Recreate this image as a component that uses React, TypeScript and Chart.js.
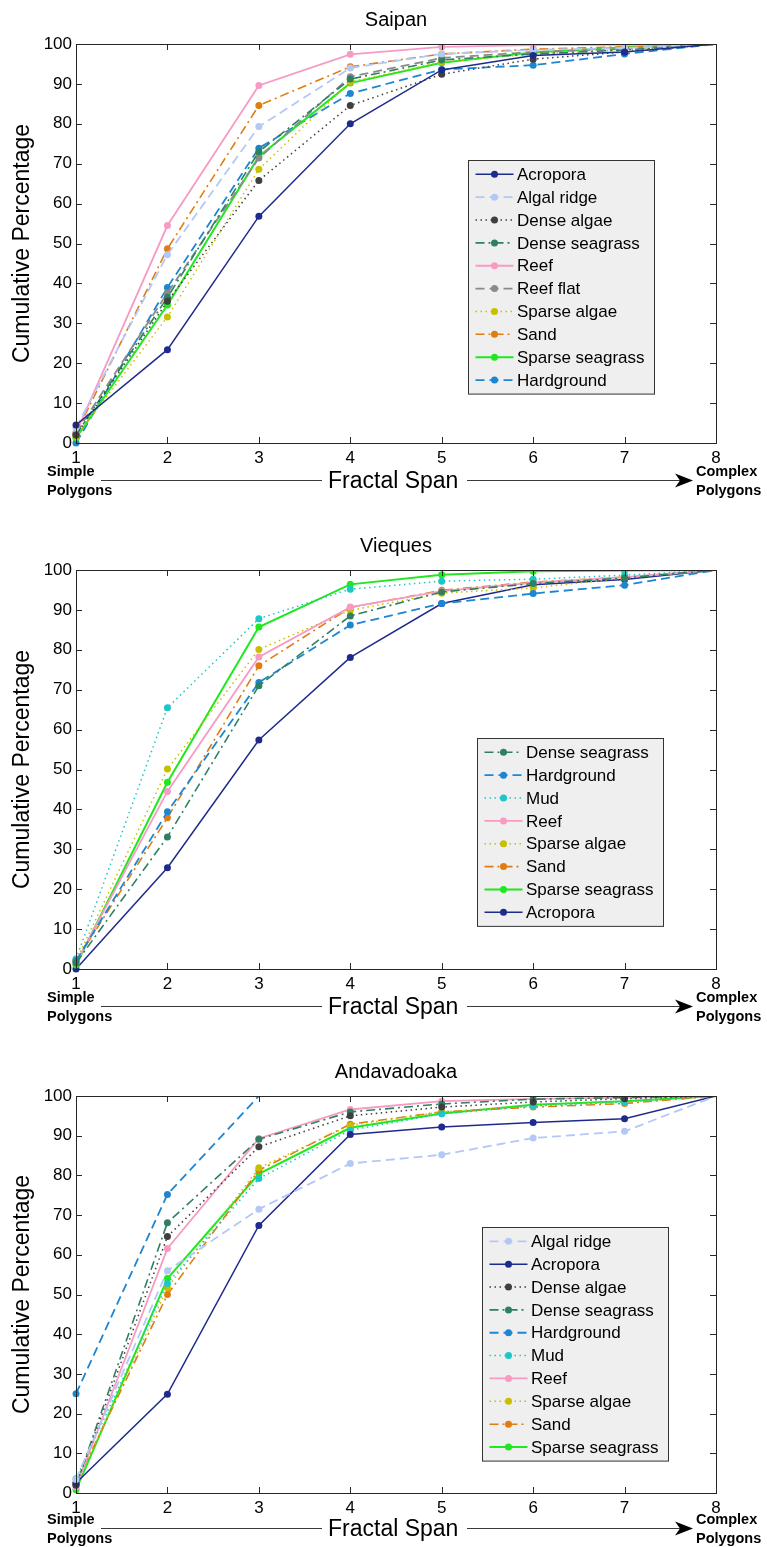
import { useEffect, useRef } from 'react';
import { Chart, registerables } from 'chart.js';

Chart.register(...registerables);

// ---------- axis categories ----------
const spans = ['1', '2', '3', '4', '5', '6', '7', '8'];
const yAxisTitle = 'Cumulative Percentage';

// ---------- Saipan ----------
const saipanAcropora = [4.5, 23.4, 56.8, 80.0, 93.5, 97.1, 98.0, 100];
const saipanAlgalRidge = [3.8, 47.2, 79.3, 94.0, 97.5, 98.5, 99.0, 100];
const saipanDenseAlgae = [2.0, 35.5, 65.8, 84.6, 92.4, 96.2, 98.0, 100];
const saipanDenseSeagrass = [2.0, 36.5, 73.0, 91.2, 96.0, 97.5, 98.5, 100];
const saipanReef = [2.5, 54.5, 89.6, 97.4, 99.3, 99.7, 99.8, 100];
const saipanReefFlat = [2.5, 37.6, 71.4, 91.8, 96.5, 98.0, 98.8, 100];
const saipanSparseAlgae = [1.5, 31.6, 68.6, 90.5, 95.5, 97.5, 98.5, 100];
const saipanSand = [2.5, 48.7, 84.6, 94.3, 97.5, 98.7, 99.3, 100];
const saipanSparseSeagrass = [1.2, 34.6, 71.8, 90.2, 95.3, 97.9, 99.2, 100];
const saipanHardground = [0.0, 39.0, 73.9, 87.6, 93.6, 94.7, 97.5, 100];

// ---------- Vieques ----------
const viequesDenseSeagrass = [1.5, 33.1, 71.0, 88.5, 94.5, 96.6, 98.0, 100];
const viequesHardground = [2.0, 39.4, 71.8, 86.2, 91.6, 94.1, 96.2, 100];
const viequesMud = [2.5, 65.5, 87.8, 95.2, 97.2, 97.7, 98.7, 100];
const viequesReef = [1.5, 44.5, 78.2, 90.7, 94.7, 96.8, 98.2, 100];
const viequesSparseAlgae = [2.0, 50.1, 80.1, 89.9, 94.2, 95.5, 98.0, 100];
const viequesSand = [2.0, 37.9, 76.0, 90.6, 94.9, 97.0, 98.2, 100];
const viequesSparseSeagrass = [1.0, 46.8, 85.7, 96.4, 98.8, 99.7, 99.9, 100];
const viequesAcropora = [0.0, 25.4, 57.4, 78.1, 91.6, 96.3, 97.6, 100];

// ---------- Andavadoaka ----------
const andaAlgalRidge = [3.4, 56.0, 71.5, 83.0, 85.2, 89.4, 91.1, 100];
const andaAcropora = [2.5, 24.9, 67.4, 90.3, 92.2, 93.3, 94.3, 100];
const andaDenseAlgae = [2.0, 64.6, 87.2, 95.0, 97.2, 98.5, 99.3, 100];
const andaDenseSeagrass = [2.0, 68.1, 89.1, 96.0, 98.0, 99.2, 99.6, 100];
const andaHardground = [25.0, 75.2, 100, 100, 100, 100, 100, 100];
const andaMud = [3.6, 52.8, 79.2, 91.4, 95.5, 97.5, 98.5, 100];
const andaReef = [1.5, 61.6, 89.3, 96.6, 98.7, 99.3, 99.6, 100];
const andaSparseAlgae = [2.0, 51.7, 81.9, 92.6, 96.0, 97.5, 98.5, 100];
const andaSand = [2.5, 50.0, 81.3, 92.9, 96.0, 97.2, 98.1, 100];
const andaSparseSeagrass = [0.8, 54.0, 80.4, 92.0, 95.6, 97.8, 98.7, 100];

// ---------- styles per class ----------
const DASHED = [9, 5];
const DOTTED = [1.5, 3.5];
const DASHDOT = [9, 4, 2, 4];
const STYLE: Record<string, { color: string; dash: number[]; width: number }> = {
  'Acropora': { color: '#1f2b8c', dash: [], width: 1.5 },
  'Algal ridge': { color: '#b4c8f6', dash: DASHED, width: 1.8 },
  'Dense algae': { color: '#3f3f3f', dash: DOTTED, width: 1.5 },
  'Dense seagrass': { color: '#2e8060', dash: DASHDOT, width: 1.6 },
  'Reef': { color: '#f79ac4', dash: [], width: 1.8 },
  'Reef flat': { color: '#8a8a8a', dash: DASHED, width: 1.8 },
  'Sparse algae': { color: '#c6c000', dash: DOTTED, width: 1.5 },
  'Sand': { color: '#e07d12', dash: DASHDOT, width: 1.6 },
  'Sparse seagrass': { color: '#1ee81e', dash: [], width: 2 },
  'Hardground': { color: '#1e86d0', dash: DASHED, width: 1.8 },
  'Mud': { color: '#1dc6c9', dash: DOTTED, width: 1.5 },
};

const FONT = 'Arial, "Liberation Sans", sans-serif';

type Series = { name: string; data: number[] };
type Panel = {
  title: string;
  series: Series[];
  legendLeft: number;
  legendTop: number;
  top: number;
  height: number;
  plotBottom: number;
  annotShift: number;
};

const panels: Panel[] = [
  {
    title: 'Saipan',
    series: [
      { name: 'Acropora', data: saipanAcropora },
      { name: 'Algal ridge', data: saipanAlgalRidge },
      { name: 'Dense algae', data: saipanDenseAlgae },
      { name: 'Dense seagrass', data: saipanDenseSeagrass },
      { name: 'Reef', data: saipanReef },
      { name: 'Reef flat', data: saipanReefFlat },
      { name: 'Sparse algae', data: saipanSparseAlgae },
      { name: 'Sand', data: saipanSand },
      { name: 'Sparse seagrass', data: saipanSparseSeagrass },
      { name: 'Hardground', data: saipanHardground },
    ],
    legendLeft: 468,
    legendTop: 160,
    top: 0,
    height: 526,
    plotBottom: 443,
    annotShift: 0,
  },
  {
    title: 'Vieques',
    series: [
      { name: 'Dense seagrass', data: viequesDenseSeagrass },
      { name: 'Hardground', data: viequesHardground },
      { name: 'Mud', data: viequesMud },
      { name: 'Reef', data: viequesReef },
      { name: 'Sparse algae', data: viequesSparseAlgae },
      { name: 'Sand', data: viequesSand },
      { name: 'Sparse seagrass', data: viequesSparseSeagrass },
      { name: 'Acropora', data: viequesAcropora },
    ],
    legendLeft: 477,
    legendTop: 212,
    top: 526,
    height: 526,
    plotBottom: 443,
    annotShift: 0,
  },
  {
    title: 'Andavadoaka',
    series: [
      { name: 'Algal ridge', data: andaAlgalRidge },
      { name: 'Acropora', data: andaAcropora },
      { name: 'Dense algae', data: andaDenseAlgae },
      { name: 'Dense seagrass', data: andaDenseSeagrass },
      { name: 'Hardground', data: andaHardground },
      { name: 'Mud', data: andaMud },
      { name: 'Reef', data: andaReef },
      { name: 'Sparse algae', data: andaSparseAlgae },
      { name: 'Sand', data: andaSand },
      { name: 'Sparse seagrass', data: andaSparseSeagrass },
    ],
    legendLeft: 482,
    legendTop: 175,
    top: 1052,
    height: 495,
    plotBottom: 441,
    annotShift: -2,
  },
];

const makeFramePlugin = (panel: Panel) => ({
  id: 'matlabFrame',
  afterDatasetsDraw(chart: any) {
    const { ctx, chartArea: a, scales } = chart;
    const xs = scales.x;
    const ys = scales.y;
    ctx.save();
    // inward ticks
    ctx.strokeStyle = '#2a2a2a';
    ctx.lineWidth = 1;
    ctx.setLineDash([]);
    ctx.beginPath();
    xs.ticks.forEach((_t: any, i: number) => {
      const px = Math.round(xs.getPixelForTick(i)) + 0.5;
      ctx.moveTo(px, a.bottom);
      ctx.lineTo(px, a.bottom - 6);
      ctx.moveTo(px, a.top);
      ctx.lineTo(px, a.top + 6);
    });
    ys.ticks.forEach((t: any) => {
      const py = Math.round(ys.getPixelForValue(t.value)) + 0.5;
      ctx.moveTo(a.left, py);
      ctx.lineTo(a.left + 6, py);
      ctx.moveTo(a.right, py);
      ctx.lineTo(a.right - 6, py);
    });
    ctx.stroke();

    // legend
    const datasets = chart.data.datasets;
    const rowH = 22.86;
    const boxW = 186;
    const boxH = datasets.length * rowH + 5;
    const L = panel.legendLeft + 0.5;
    const T = panel.legendTop + 0.5;
    ctx.fillStyle = '#efefef';
    ctx.fillRect(L, T, boxW, boxH);
    ctx.strokeStyle = '#333';
    ctx.lineWidth = 1;
    ctx.strokeRect(L, T, boxW, boxH);
    ctx.font = `17px ${FONT}`;
    ctx.textAlign = 'left';
    ctx.textBaseline = 'middle';
    datasets.forEach((ds: any, i: number) => {
      const cy = panel.legendTop + 14.3 + i * rowH;
      ctx.strokeStyle = ds.borderColor;
      ctx.lineWidth = ds.borderWidth;
      ctx.setLineDash(ds.borderDash || []);
      ctx.beginPath();
      ctx.moveTo(L + 7, cy);
      ctx.lineTo(L + 45, cy);
      ctx.stroke();
      ctx.setLineDash([]);
      ctx.fillStyle = ds.pointBackgroundColor;
      ctx.beginPath();
      ctx.arc(L + 26, cy, 3.5, 0, Math.PI * 2);
      ctx.fill();
      ctx.fillStyle = '#000';
      ctx.fillText(ds.label, L + 48.5, cy + 1);
    });

    // axes box
    ctx.strokeStyle = '#262626';
    ctx.lineWidth = 1;
    ctx.strokeRect(Math.round(a.left) + 0.5, Math.round(a.top) + 0.5, Math.round(a.right - a.left), Math.round(a.bottom - a.top));
    ctx.restore();
  },
  afterDraw(chart: any) {
    const { ctx, chartArea: a } = chart;
    const pb = a.bottom + panel.annotShift;
    ctx.save();
    ctx.fillStyle = '#000';
    ctx.textAlign = 'left';
    ctx.textBaseline = 'alphabetic';
    ctx.font = `bold 14.5px ${FONT}`;
    ctx.fillText('Simple', 47, pb + 33);
    ctx.fillText('Polygons', 47, pb + 52);
    ctx.fillText('Complex', 696, pb + 33);
    ctx.fillText('Polygons', 696, pb + 52);
    ctx.font = `23px ${FONT}`;
    ctx.fillText('Fractal Span', 328, pb + 45);
    ctx.strokeStyle = '#3a3a3a';
    ctx.lineWidth = 1;
    const ly = Math.round(pb + 37) + 0.5;
    ctx.beginPath();
    ctx.moveTo(101, ly);
    ctx.lineTo(322, ly);
    ctx.moveTo(467, ly);
    ctx.lineTo(684, ly);
    ctx.stroke();
    ctx.fillStyle = '#000';
    ctx.beginPath();
    ctx.moveTo(693, ly);
    ctx.lineTo(675, ly - 7);
    ctx.lineTo(680, ly);
    ctx.lineTo(675, ly + 7);
    ctx.closePath();
    ctx.fill();
    ctx.restore();
  },
});

function ChartPanel({ panel }: { panel: Panel }) {
  const ref = useRef<HTMLCanvasElement | null>(null);
  useEffect(() => {
    if (!ref.current) return;
    const chart = new Chart(ref.current, {
      type: 'line',
      data: {
        labels: spans,
        datasets: panel.series.map((s) => {
          const st = STYLE[s.name];
          return {
            label: s.name,
            data: s.data,
            borderColor: st.color,
            backgroundColor: st.color,
            borderWidth: st.width,
            borderDash: st.dash,
            pointRadius: (c: any) => (c.raw >= 100 ? 0 : 3.5),
            pointHoverRadius: 0,
            pointBackgroundColor: st.color,
            pointBorderColor: st.color,
            pointBorderWidth: 0,
            tension: 0,
            fill: false,
            clip: { left: 6, right: 0, top: 0, bottom: 6 },
          };
        }),
      },
      options: {
        responsive: false,
        animation: false,
        events: [],
        layout: { padding: { left: 0, right: 51, top: 0, bottom: 0 } },
        plugins: {
          legend: { display: false },
          tooltip: { enabled: false },
          title: {
            display: true,
            text: panel.title,
            fullSize: false,
            color: '#000',
            font: { family: FONT, size: 20, weight: 'normal' },
            padding: { top: 8, bottom: 12 },
          },
        },
        scales: {
          x: {
            type: 'category',
            offset: false,
            grid: { display: false, drawTicks: false },
            border: { display: true, color: '#262626' },
            ticks: { color: '#000', font: { family: FONT, size: 17 }, padding: 5, maxRotation: 0, autoSkip: false },
            afterFit: (s: any) => {
              s.height = panel.height - panel.plotBottom;
            },
          },
          y: {
            min: 0,
            max: 100,
            grid: { display: false, drawTicks: false },
            border: { display: true, color: '#262626' },
            ticks: { stepSize: 10, color: '#000', font: { family: FONT, size: 17 }, padding: 4 },
            title: {
              display: true,
              text: yAxisTitle,
              color: '#000',
              font: { family: FONT, size: 23 },
              padding: { top: 9, bottom: 0 },
            },
            afterFit: (s: any) => {
              s.width = 76;
            },
          },
        },
      } as any,
      plugins: [makeFramePlugin(panel)],
    });
    return () => chart.destroy();
  }, [panel]);
  return (
    <div style={{ position: 'absolute', left: 0, top: panel.top, width: 767, height: panel.height }}>
      <canvas ref={ref} width={767} height={panel.height} style={{ display: 'block' }} />
    </div>
  );
}

export default function App() {
  return (
    <div style={{ position: 'absolute', left: 0, top: 0, width: 767, height: 1547, background: '#fff' }}>
      {panels.map((p) => (
        <ChartPanel key={p.title} panel={p} />
      ))}
    </div>
  );
}
